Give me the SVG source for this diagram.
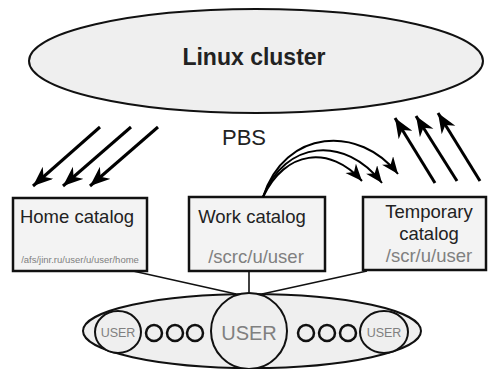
<svg xmlns="http://www.w3.org/2000/svg" width="488" height="369" viewBox="0 0 488 369">
<defs>
<style>
.t{font-family:"Liberation Sans",Arial,sans-serif;fill:#222}
.g{font-family:"Liberation Sans",Arial,sans-serif;fill:#808080}
.box{fill:#f3f3f3;stroke:#111;stroke-width:2.5}
.ell{fill:#efefef;stroke:#111;stroke-width:2}
.link{stroke:#111;stroke-width:1.6;fill:none}
.arr{stroke:#000;stroke-width:3;fill:none;marker-end:url(#ah)}
.carr{stroke:#000;stroke-width:2;fill:none;marker-end:url(#ah2)}
.dot{fill:none;stroke:#111;stroke-width:2.5}
</style>
<marker id="ah" markerUnits="userSpaceOnUse" markerWidth="22" markerHeight="18" refX="20" refY="8" orient="auto">
<path d="M0,0 L20,8 L0,16 L6,8 z" fill="#000"/>
</marker>
<marker id="ah2" markerUnits="userSpaceOnUse" markerWidth="20" markerHeight="16" refX="17" refY="7" orient="auto">
<path d="M0,0 L17,7 L0,14 L5,7 z" fill="#000"/>
</marker>
</defs>

<g id="cluster">
<ellipse class="ell" cx="256" cy="61" rx="227" ry="52"/>
<text class="t" x="254" y="65" font-size="23" font-weight="bold" text-anchor="middle">Linux cluster</text>
</g>

<g id="pbs">
<text class="t" x="244" y="145" font-size="22" text-anchor="middle">PBS</text>
</g>

<g id="home">
<rect class="box" x="13" y="198" width="134" height="73"/>
<text class="t" x="77" y="223" font-size="18.5" text-anchor="middle">Home catalog</text>
<text class="g" x="80" y="263" font-size="9.5" text-anchor="middle">/afs/jinr.ru/user/u/user/home</text>
</g>

<g id="work">
<rect class="box" x="189" y="197" width="136" height="74"/>
<text class="t" x="252" y="223" font-size="18.5" text-anchor="middle">Work catalog</text>
<text class="g" x="256" y="263" font-size="18.5" text-anchor="middle">/scrc/u/user</text>
</g>

<g id="temp">
<rect class="box" x="363" y="197" width="123" height="73"/>
<text class="t" x="429" y="218" font-size="18.5" text-anchor="middle">Temporary</text>
<text class="t" x="429" y="240" font-size="18.5" text-anchor="middle">catalog</text>
<text class="g" x="429" y="262" font-size="18.5" text-anchor="middle">/scr/u/user</text>
</g>

<g id="users">
<ellipse class="ell" cx="252" cy="331" rx="169" ry="37"/>
<ellipse cx="118" cy="332" rx="23" ry="21" fill="#efefef" stroke="#111" stroke-width="2"/>
<text class="g" x="118" y="337" font-size="12.5" text-anchor="middle">USER</text>
<ellipse cx="384" cy="332" rx="24" ry="21" fill="#efefef" stroke="#111" stroke-width="2"/>
<text class="g" x="384" y="337" font-size="12.5" text-anchor="middle">USER</text>
<circle cx="249" cy="331" r="38" fill="#efefef" stroke="#111" stroke-width="2"/>
<text class="g" x="249" y="340" font-size="20" text-anchor="middle">USER</text>
<circle class="dot" cx="154" cy="333" r="8"/>
<circle class="dot" cx="175" cy="333" r="8"/>
<circle class="dot" cx="195" cy="333" r="8"/>
<circle class="dot" cx="306" cy="333" r="8"/>
<circle class="dot" cx="327" cy="333" r="8"/>
<circle class="dot" cx="348" cy="333" r="8"/>
</g>

<g id="connectors">
<line class="link" x1="133" y1="271" x2="236" y2="294"/>
<line class="link" x1="249" y1="271" x2="249" y2="293"/>
<line class="link" x1="367" y1="271" x2="262" y2="294"/>
<line class="arr" x1="100" y1="127" x2="33" y2="186"/>
<line class="arr" x1="131" y1="127" x2="63" y2="186"/>
<line class="arr" x1="158" y1="127" x2="90" y2="186"/>
<line class="arr" x1="435" y1="183" x2="395" y2="118"/>
<line class="arr" x1="457" y1="181" x2="416" y2="116"/>
<line class="arr" x1="480" y1="181" x2="438" y2="113"/>
<path class="carr" d="M263,197 C285,150 330,145 362,181"/>
<path class="carr" d="M263,197 C285,140 345,135 382,183"/>
<path class="carr" d="M263,197 C285,128 360,125 398,174"/>
</g>
</svg>
